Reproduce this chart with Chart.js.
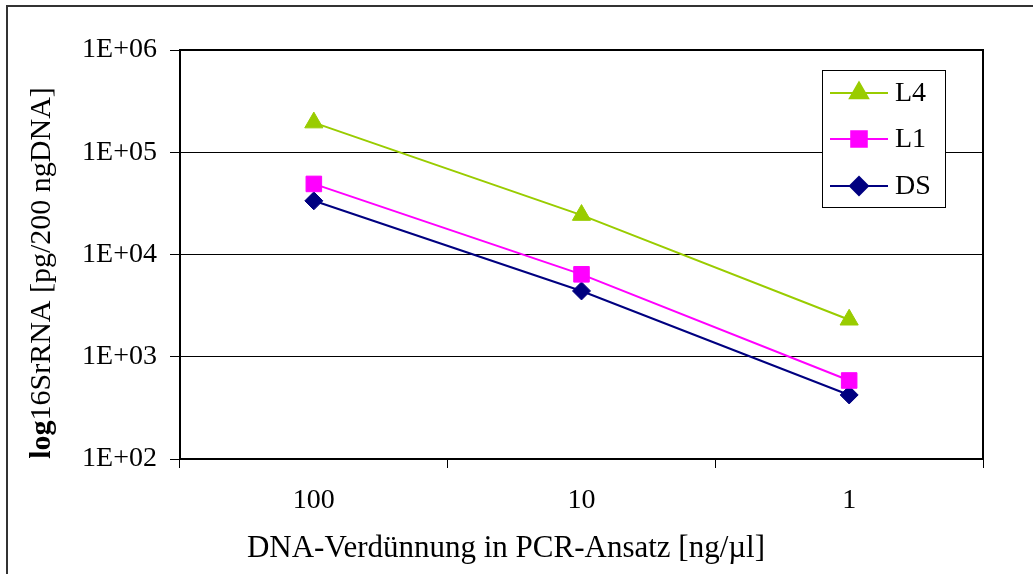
<!DOCTYPE html>
<html>
<head>
<meta charset="utf-8">
<script src="https://cdn.jsdelivr.net/npm/chart.js@4.4.1/dist/chart.umd.min.js"></script>
<style>
    html, body { margin: 0; padding: 0; background: #fff; overflow: hidden; }
    #wrap { position: relative; width: 1033px; height: 574px; }
    #frame {
        position: absolute; left: 6px; top: 5px; width: 1100px; height: 650px;
        border-left: 2px solid #333; border-top: 2px solid #333;
        pointer-events: none;
    }
</style>
</head>
<body>
<div id="wrap">
    <canvas id="chart" width="1033" height="574"></canvas>
    <div id="frame"></div>
</div>
<script>
// Data
const categories = ['100', '10', '1'];
const seriesL4 = [195000, 24300, 2300];
const seriesL1 = [49000, 6400, 586];
const seriesDS = [33500, 4400, 423];
const yTicks = [1e2, 1e3, 1e4, 1e5, 1e6];

const FONT = "'Liberation Serif', 'Times New Roman', serif";

// Axis titles (y title has a bold "log" part) and plot frame
const decorPlugin = {
    id: 'decor',
    afterDraw(chart) {
        const c = chart.ctx;
        const a = chart.chartArea;
        c.save();
        c.strokeStyle = '#000';
        c.lineWidth = 2;
        c.strokeRect(a.left, a.top, a.right - a.left, a.bottom - a.top);

        // x title
        c.fillStyle = '#000';
        c.font = '31px ' + FONT;
        c.textAlign = 'center';
        c.textBaseline = 'alphabetic';
        c.fillText('DNA-Verdünnung in PCR-Ansatz [ng/µl]', 506, 557);

        // y title, rotated
        c.translate(50, 273);
        c.rotate(-Math.PI / 2);
        const bold = 'bold 30px ' + FONT;
        const reg = '30px ' + FONT;
        c.font = bold;
        const w1 = c.measureText('log').width;
        c.font = reg;
        const rest = '16SrRNA [pg/200 ngDNA]';
        const w2 = c.measureText(rest).width;
        const start = -(w1 + w2) / 2;
        c.textAlign = 'left';
        c.font = bold;
        c.fillText('log', start, 0);
        c.font = reg;
        c.fillText(rest, start + w1, 0);
        c.restore();
    }
};

// Legend box inside the plot
const legendBox = {
    id: 'legendBox',
    afterDatasetsDraw(chart) {
        const c = chart.ctx;
        const x0 = 822, y0 = 70, w = 123, h = 137;
        c.save();
        c.fillStyle = '#fff';
        c.fillRect(x0, y0, w, h);
        c.strokeStyle = '#000';
        c.lineWidth = 1;
        c.strokeRect(x0 + 0.5, y0 + 0.5, w, h);
        const rows = [93, 139, 186];
        chart.data.datasets.forEach((ds, i) => {
            const y = rows[i];
            c.strokeStyle = ds.borderColor;
            c.lineWidth = 2;
            c.beginPath();
            c.moveTo(830, y);
            c.lineTo(888, y);
            c.stroke();
            c.fillStyle = ds.backgroundColor;
            c.strokeStyle = ds.borderColor;
            Chart.helpers.drawPoint(c, {
                pointStyle: ds.pointStyle,
                radius: ds.pointRadius,
                borderWidth: 1,
                rotation: 0
            }, 859, y);
            c.fillStyle = '#000';
            c.font = '28px ' + FONT;
            c.textAlign = 'left';
            c.textBaseline = 'middle';
            c.fillText(ds.label, 895, y + 1);
        });
        c.restore();
    }
};

new Chart(document.getElementById('chart'), {
    type: 'line',
    data: {
        labels: categories,
        datasets: [
            {
                label: 'L4', data: seriesL4,
                borderColor: '#99CC00', backgroundColor: '#99CC00',
                borderWidth: 2, pointStyle: 'triangle', pointRadius: 10.5,
                pointBorderWidth: 1, tension: 0
            },
            {
                label: 'L1', data: seriesL1,
                borderColor: '#FF00FF', backgroundColor: '#FF00FF',
                borderWidth: 2, pointStyle: 'rect', pointRadius: 11,
                pointBorderWidth: 1, tension: 0
            },
            {
                label: 'DS', data: seriesDS,
                borderColor: '#000080', backgroundColor: '#000080',
                borderWidth: 2, pointStyle: 'rectRot', pointRadius: 9,
                pointBorderWidth: 1, tension: 0
            }
        ]
    },
    options: {
        responsive: false,
        animation: false,
        layout: { padding: { left: 0, top: 50, right: 50, bottom: 0 } },
        plugins: {
            legend: { display: false },
            tooltip: { enabled: false }
        },
        scales: {
            x: {
                type: 'category',
                offset: true,
                afterFit: (s) => { s.height = 115; },
                grid: {
                    offset: true, drawOnChartArea: false, drawTicks: true,
                    tickLength: 9, color: '#000', lineWidth: 1
                },
                border: { color: '#000', width: 2 },
                ticks: {
                    color: '#000', padding: 16,
                    font: { family: FONT, size: 28 }
                }
            },
            y: {
                type: 'logarithmic',
                min: 1e2,
                max: 1e6,
                afterFit: (s) => { s.width = 180; },
                afterBuildTicks: (s) => { s.ticks = yTicks.map(v => ({ value: v })); },
                grid: { color: '#000', lineWidth: 1, tickLength: 10 },
                border: { color: '#000', width: 2 },
                ticks: {
                    color: '#000', padding: 13,
                    font: { family: FONT, size: 28 },
                    callback: (v) => {
                        const e = Math.round(Math.log10(v));
                        return '1E+' + String(e).padStart(2, '0');
                    }
                }
            }
        }
    },
    plugins: [decorPlugin, legendBox]
});
</script>
</body>
</html>
